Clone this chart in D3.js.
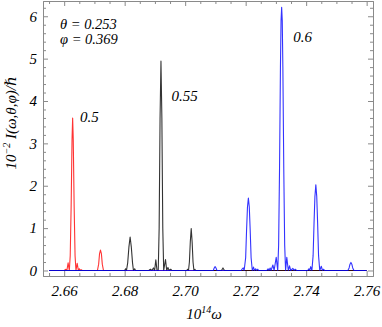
<!DOCTYPE html>
<html>
<head>
<meta charset="utf-8">
<script src="https://cdn.jsdelivr.net/npm/d3@7"></script>
<style>
  body { margin: 0; background: #fff; }
  svg text { font-family: "Liberation Serif", "DejaVu Serif", serif; font-style: italic; }
</style>
</head>
<body>
<div id="canvas"></div>
<script>
// tick labels
var xTicks = [2.66, 2.68, 2.70, 2.72, 2.74, 2.76];
var yTicks = [0, 1, 2, 3, 4, 5, 6];

// series: [10^14 omega, 10^-2 I]
var series05 = [
  [2.6550,0],[2.6600,0],[2.6606,0.03],[2.6609,0],[2.6613,0.18],[2.6617,0],[2.6620,0.35],
  [2.6623,1.5],[2.6626,3.1],[2.6628,3.6],[2.6630,3.1],[2.6633,1.5],[2.6636,0.35],[2.6639,0],
  [2.6643,0.17],[2.6647,0],[2.6650,0.04],[2.6653,0],[2.6656,0.02],[2.6660,0],
  [2.6710,0],[2.6714,0.15],[2.6717,0.4],[2.6720,0.48],[2.6723,0.4],[2.6726,0.15],[2.6730,0],
  [2.7600,0]
];
var series055 = [
  [2.6550,0],[2.6800,0],[2.6803,0.04],[2.6806,0],[2.6810,0.18],[2.6814,0.55],[2.6818,0.79],
  [2.6822,0.55],[2.6826,0.18],[2.6829,0],[2.6833,0.04],[2.6836,0],[2.6880,0],[2.6885,0.03],
  [2.6890,0],[2.6895,0.06],[2.6899,0],[2.6903,0.25],[2.6907,0],[2.6911,0],[2.6914,1.0],
  [2.6917,3.6],[2.6920,4.94],[2.6923,3.6],[2.6926,1.0],[2.6929,0],[2.6935,0.26],[2.6939,0],
  [2.6943,0.07],[2.6947,0],[2.6952,0.03],[2.6956,0],[2.7005,0],[2.7008,0.03],[2.7011,0],
  [2.7014,0.2],[2.7017,0.68],[2.7020,0.99],[2.7023,0.68],[2.7026,0.2],[2.7029,0],[2.7032,0.03],
  [2.7035,0],[2.7120,0],[2.7125,0.06],[2.7130,0],[2.7600,0]
];
var series06 = [
  [2.6550,0],[2.7093,0],[2.7096,0.06],[2.7099,0.09],[2.7102,0.06],[2.7105,0],[2.7185,0],
  [2.7189,0.04],[2.7192,0.06],[2.7195,0],[2.7200,0.3],[2.7203,0.95],[2.7206,1.5],[2.7209,1.71],
  [2.7212,1.5],[2.7215,0.95],[2.7218,0.3],[2.7222,0],[2.7226,0.08],[2.7229,0],[2.7233,0.04],
  [2.7236,0],[2.7240,0.03],[2.7243,0],[2.7270,0],[2.7274,0.04],[2.7277,0],[2.7281,0.06],
  [2.7284,0],[2.7290,0.13],[2.7294,0],[2.7301,0.31],[2.7306,0],[2.7309,0.6],[2.7312,2.4],
  [2.7315,4.8],[2.7317,5.9],[2.7319,6.21],[2.7321,5.9],[2.7323,4.8],[2.7326,2.4],[2.7329,0.6],
  [2.7332,0],[2.7336,0.31],[2.7341,0],[2.7345,0.11],[2.7349,0],[2.7356,0.05],[2.7360,0],
  [2.7364,0.03],[2.7368,0],[2.7405,0],[2.7409,0.04],[2.7412,0],[2.7415,0.09],[2.7419,0],
  [2.7423,0.35],[2.7426,1.1],[2.7429,1.75],[2.7432,2.02],[2.7435,1.75],[2.7438,1.1],[2.7441,0.35],
  [2.7445,0],[2.7450,0.1],[2.7454,0],[2.7458,0.03],[2.7461,0],[2.7538,0],[2.7542,0.06],
  [2.7545,0.15],[2.7548,0.19],[2.7551,0.15],[2.7554,0.06],[2.7558,0],[2.7600,0]
];

var seriesList = [
  {data: series05, color: "#ff0000", label: "0.5", lx: 2.6652, ly: 3.5},
  {data: series055, color: "#000000", label: "0.55", lx: 2.6955, ly: 4.0},
  {data: series06, color: "#0000ff", label: "0.6", lx: 2.7357, ly: 5.4}
];

var W = 382, H = 327;
var margin = {top: 1, right: 9, bottom: 51, left: 43};
var width = W - margin.left - margin.right,
    height = H - margin.top - margin.bottom;

var svg = d3.select("#canvas").append("svg")
    .attr("width", W).attr("height", H);
var g = svg.append("g")
    .attr("transform", "translate(" + margin.left + "," + margin.top + ")");

var x = d3.scaleLinear().domain([2.6530, 2.7621]).range([0, width]);
var y = d3.scaleLinear().domain([-0.13, 6.36]).range([height, 0]);

var frameColor = "#8a8a8a";
var xMinor = d3.range(2.655, 2.7601, 0.005).filter(function(v) {
  return xTicks.every(function(t) { return Math.abs(t - v) > 1e-6; });
});
var yMinor = d3.range(0, 6.3, 0.2).filter(function(v) {
  return Math.abs(v - Math.round(v)) > 1e-6;
});

function styleAxis(sel) {
  sel.attr("font-family", null);
  sel.select(".domain").attr("stroke", frameColor);
  sel.selectAll(".tick line").attr("stroke", frameColor);
}

// bottom
var gb = g.append("g").attr("transform", "translate(0," + height + ")")
  .call(d3.axisBottom(x).tickValues(xTicks).tickFormat(d3.format(".2f")).tickSize(-5).tickSizeOuter(0));
styleAxis(gb);
gb.selectAll("text").attr("y", 20).attr("dy", 0).attr("fill", "#000").style("font-size", "15px");
g.append("g").attr("transform", "translate(0," + height + ")")
  .call(d3.axisBottom(x).tickValues(xMinor).tickFormat("").tickSize(-3).tickSizeOuter(0))
  .call(styleAxis);
// top
g.append("g").call(d3.axisTop(x).tickValues(xTicks).tickFormat("").tickSize(-5).tickSizeOuter(0)).call(styleAxis);
g.append("g").call(d3.axisTop(x).tickValues(xMinor).tickFormat("").tickSize(-3).tickSizeOuter(0)).call(styleAxis);
// left
var gl = g.append("g")
  .call(d3.axisLeft(y).tickValues(yTicks).tickFormat(d3.format("d")).tickSize(-5).tickSizeOuter(0));
styleAxis(gl);
gl.selectAll("text").attr("x", -6).attr("fill", "#000").style("font-size", "15px");
g.append("g").call(d3.axisLeft(y).tickValues(yMinor).tickFormat("").tickSize(-3).tickSizeOuter(0)).call(styleAxis);
// right
g.append("g").attr("transform", "translate(" + width + ",0)")
  .call(d3.axisRight(y).tickValues(yTicks).tickFormat("").tickSize(-5).tickSizeOuter(0)).call(styleAxis);
g.append("g").attr("transform", "translate(" + width + ",0)")
  .call(d3.axisRight(y).tickValues(yMinor).tickFormat("").tickSize(-3).tickSizeOuter(0)).call(styleAxis);

// curves
var line = d3.line()
  .x(function(d) { return x(d[0]); })
  .y(function(d) { return y(d[1]); });

g.append("clipPath").attr("id", "clip")
  .append("rect").attr("width", width).attr("height", height);

seriesList.forEach(function(s) {
  g.append("path")
    .datum(s.data)
    .attr("clip-path", "url(#clip)")
    .attr("fill", "none")
    .attr("stroke", s.color)
    .attr("stroke-opacity", 0.8)
    .attr("stroke-width", 1.1)
    .attr("stroke-linejoin", "round")
    .attr("d", line);
  g.append("text")
    .attr("x", x(s.lx)).attr("y", y(s.ly))
    .style("font-size", "15px")
    .text(s.label);
});

// parameters
g.append("text").attr("x", 17).attr("y", 28).style("font-size", "14.5px")
  .attr("xml:space", "preserve").text("\u03B8 = 0.253");
g.append("text").attr("x", 17).attr("y", 43).style("font-size", "14.5px")
  .attr("xml:space", "preserve").text("\u03C6 = 0.369");

// axis labels
var xl = svg.append("text")
  .attr("x", 204).attr("y", 319)
  .attr("text-anchor", "middle")
  .style("font-size", "15px");
xl.append("tspan").text("10");
xl.append("tspan").attr("dy", -6).style("font-size", "10px").text("14");
xl.append("tspan").attr("dy", 6).text("\u03C9");

var yl = svg.append("text")
  .attr("transform", "translate(16,123) rotate(-90)")
  .attr("text-anchor", "middle")
  .style("font-size", "15px");
yl.append("tspan").text("10");
yl.append("tspan").attr("dy", -6).style("font-size", "10px").text("\u22122");
yl.append("tspan").attr("dy", 6).text(" I(\u03C9,\u03B8,\u03C6)/\u210F");
</script>
</body>
</html>
